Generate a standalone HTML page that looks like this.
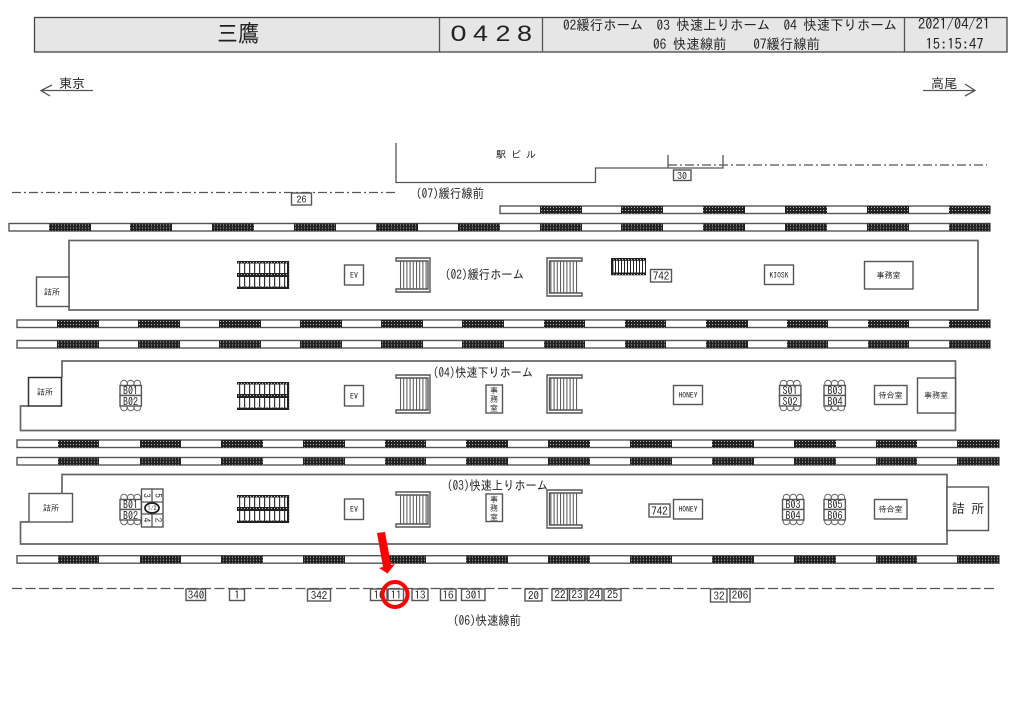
<!DOCTYPE html>
<html lang="ja"><head><meta charset="utf-8"><title>三鷹 0428</title>
<style>
html,body{margin:0;padding:0;background:#fff}
svg{display:block;position:absolute;left:0;top:0}
text{font-family:"IPAGothic","Liberation Sans","Noto Sans CJK JP",sans-serif;fill:#222;text-anchor:middle}
.l{fill:none;stroke:#555;stroke-width:1.3}
.b{fill:#fff;stroke:#555;stroke-width:1.4}
.h{stroke:#666;stroke-width:1.7;fill:#fff}
</style></head><body>
<svg width="1024" height="724" viewBox="0 0 1024 724" xmlns="http://www.w3.org/2000/svg">
<defs>
<pattern id="d" width="3" height="3" patternUnits="userSpaceOnUse"><rect width="3" height="3" fill="#222"/><rect x="1" y="1" width="1" height="1" fill="#bbb"/></pattern>
<pattern id="s" x="0" y="0" width="3.2" height="4" patternUnits="userSpaceOnUse"><rect width="3.2" height="4" fill="#fff"/><rect width="1" height="4" fill="#555"/></pattern>
<pattern id="e" x="239" y="0" width="5" height="4" patternUnits="userSpaceOnUse"><rect width="5" height="4" fill="#fff"/><rect width="1.2" height="4" fill="#333"/></pattern>
<pattern id="e2" x="0" y="0" width="3" height="4" patternUnits="userSpaceOnUse"><rect width="3" height="4" fill="#fff"/><rect width="1" height="4" fill="#222"/></pattern>
<g id="esc">
<rect x="237" y="0" width="52" height="28" fill="url(#e)"/>
<rect x="237" y="0" width="52" height="2.5" fill="url(#d)"/>
<rect x="237" y="12" width="52" height="4" fill="url(#d)"/>
<rect x="237" y="25.5" width="52" height="2.5" fill="url(#d)"/>
<rect x="287" y="0" width="2.2" height="28" fill="url(#d)"/>
</g>
<g id="circ"><circle cx="4" cy="0" r="3.3" fill="#fff" stroke="#666"/><circle cx="10.7" cy="0" r="3.3" fill="#fff" stroke="#666"/><circle cx="17.4" cy="0" r="3.3" fill="#fff" stroke="#666"/></g>
<g id="booth">
<use href="#circ" y="3.5"/><use href="#circ" y="27.5"/>
<rect x="0" y="5.5" width="21.4" height="10" class="b"/><rect x="0" y="15.5" width="21.4" height="10.5" class="b"/>
</g>
<g id="t1">
<rect x="49" y="0" width="42" height="7.5" fill="url(#d)"/><rect x="130" y="0" width="42" height="7.5" fill="url(#d)"/><rect x="212" y="0" width="42" height="7.5" fill="url(#d)"/><rect x="294" y="0" width="42" height="7.5" fill="url(#d)"/><rect x="376" y="0" width="42" height="7.5" fill="url(#d)"/><rect x="458" y="0" width="42" height="7.5" fill="url(#d)"/>
</g>
<g id="t2">
<rect x="540" y="0" width="42" height="7.5" fill="url(#d)"/><rect x="621" y="0" width="42" height="7.5" fill="url(#d)"/><rect x="703" y="0" width="42" height="7.5" fill="url(#d)"/><rect x="785" y="0" width="42" height="7.5" fill="url(#d)"/><rect x="867" y="0" width="42" height="7.5" fill="url(#d)"/><rect x="949" y="0" width="41" height="7.5" fill="url(#d)"/>
</g>
<g id="t3">
<rect x="17" y="0" width="973" height="7.5" class="b"/>
<rect x="57" y="0" width="42" height="7.5" fill="url(#d)"/><rect x="138" y="0" width="42" height="7.5" fill="url(#d)"/><rect x="219" y="0" width="42" height="7.5" fill="url(#d)"/><rect x="300" y="0" width="42" height="7.5" fill="url(#d)"/><rect x="381" y="0" width="42" height="7.5" fill="url(#d)"/><rect x="462" y="0" width="42" height="7.5" fill="url(#d)"/><rect x="544" y="0" width="41" height="7.5" fill="url(#d)"/><rect x="625" y="0" width="41" height="7.5" fill="url(#d)"/><rect x="706" y="0" width="42" height="7.5" fill="url(#d)"/><rect x="787" y="0" width="41" height="7.5" fill="url(#d)"/><rect x="868" y="0" width="41" height="7.5" fill="url(#d)"/><rect x="949" y="0" width="41" height="7.5" fill="url(#d)"/>
</g>
<g id="t4">
<rect x="17" y="0" width="982" height="7.5" class="b"/>
<rect x="58" y="0" width="41" height="7.5" fill="url(#d)"/><rect x="140" y="0" width="41" height="7.5" fill="url(#d)"/><rect x="221" y="0" width="42" height="7.5" fill="url(#d)"/><rect x="303" y="0" width="42" height="7.5" fill="url(#d)"/><rect x="385" y="0" width="41" height="7.5" fill="url(#d)"/><rect x="466" y="0" width="42" height="7.5" fill="url(#d)"/><rect x="548" y="0" width="42" height="7.5" fill="url(#d)"/><rect x="630" y="0" width="42" height="7.5" fill="url(#d)"/><rect x="712" y="0" width="42" height="7.5" fill="url(#d)"/><rect x="794" y="0" width="42" height="7.5" fill="url(#d)"/><rect x="876" y="0" width="41" height="7.5" fill="url(#d)"/><rect x="957" y="0" width="42" height="7.5" fill="url(#d)"/>
</g>
</defs>

<!-- header -->
<rect x="34.5" y="17.5" width="972.5" height="34.5" fill="#e6e6e6" stroke="#444" stroke-width="1.3"/>
<path d="M439.5 17.5V52M542.5 17.5V52M904.5 17.5V52" class="l"/>
<text x="238" y="42" font-size="24" textLength="42" lengthAdjust="spacingAndGlyphs">三鷹</text>
<text x="458.5" y="41" font-size="22" textLength="16" lengthAdjust="spacingAndGlyphs" style='font-family:"Liberation Sans",sans-serif'>0</text>
<text x="480.5" y="41" font-size="22" textLength="15" lengthAdjust="spacingAndGlyphs" style='font-family:"Liberation Sans",sans-serif'>4</text>
<text x="503" y="41" font-size="22" textLength="15" lengthAdjust="spacingAndGlyphs" style='font-family:"Liberation Sans",sans-serif'>2</text>
<text x="524.5" y="41" font-size="22" textLength="15" lengthAdjust="spacingAndGlyphs" style='font-family:"Liberation Sans",sans-serif'>8</text>
<text x="730" y="30" font-size="14" textLength="334" lengthAdjust="spacingAndGlyphs" xml:space="preserve">02緩行ホーム  03 快速上りホーム  04 快速下りホーム</text>
<text x="736.5" y="49" font-size="14" textLength="167" lengthAdjust="spacingAndGlyphs" xml:space="preserve">06 快速線前    07緩行線前</text>
<text x="954" y="29" font-size="15" textLength="72" lengthAdjust="spacingAndGlyphs">2021/04/21</text>
<text x="954.5" y="49" font-size="15" textLength="58" lengthAdjust="spacingAndGlyphs">15:15:47</text>

<!-- direction -->
<text x="72" y="88" font-size="13">東京</text>
<path d="M93 90.5H41M52 85L41 90.5L50 96" class="l"/>
<text x="944" y="88" font-size="13">高尾</text>
<path d="M923 90.5H975M965 84L975 90.5L965 96" class="l"/>

<!-- station building -->
<path d="M396 143V182.5H595.5V168H723V155M668 155V168" class="l"/>
<text x="516" y="158" font-size="10" textLength="40" xml:space="preserve">駅 ビ ル</text>
<path d="M12 192.5H396" class="l" stroke-dasharray="9 3 2 3"/>
<path d="M668 165H987" class="l" stroke-dasharray="9 3 2 3"/>
<rect x="291.5" y="193" width="20" height="12" class="b"/><text x="301.5" y="203" font-size="10">26</text>
<rect x="673.5" y="170" width="17.5" height="10.5" class="b"/><text x="682" y="179.5" font-size="10">30</text>
<text x="450" y="198" font-size="13" textLength="68" lengthAdjust="spacingAndGlyphs">(07)緩行線前</text>

<!-- tracks -->
<rect x="500" y="206" width="490" height="7.5" class="b"/><use href="#t2" y="206"/>
<rect x="9" y="223.5" width="981" height="7.5" class="b"/><use href="#t1" y="223.5"/><use href="#t2" y="223.5"/>
<use href="#t3" y="320"/><use href="#t3" y="340.5"/>
<use href="#t4" y="440"/><use href="#t4" y="457.5"/><use href="#t4" y="555.7"/>

<!-- platform 02 -->
<rect x="69" y="240.5" width="909" height="69.5" class="h"/>
<rect x="36.5" y="277" width="32.5" height="29.5" class="b"/><text x="52" y="295" font-size="8">詰所</text>
<use href="#esc" y="261"/>
<rect x="344.5" y="265" width="19" height="20" class="b"/><text x="354" y="278" font-size="8">EV</text>
<rect x="398" y="261" width="30" height="28" fill="url(#s)"/><path d="M396 258H430V292H396V289H428V261H396Z" class="b"/>
<text x="484.5" y="279" font-size="13" textLength="79" lengthAdjust="spacingAndGlyphs">(02)緩行ホーム</text>
<rect x="549" y="261" width="30" height="32" fill="url(#s)"/><path d="M582 258H547V296H582V293H549.5V261H582Z" class="b"/>
<rect x="611" y="258" width="35" height="17" fill="url(#e2)"/><rect x="611" y="258" width="35" height="2.8" fill="url(#d)"/><rect x="611" y="272.5" width="35" height="2.8" fill="url(#d)"/><rect x="611" y="258" width="2.4" height="17" fill="#222"/>
<rect x="650.5" y="269.5" width="21" height="12.5" class="b"/><text x="661" y="280" font-size="11">742</text>
<rect x="764.5" y="265" width="29" height="19.5" class="b"/><text x="779" y="278" font-size="8" textLength="19" lengthAdjust="spacingAndGlyphs">KIOSK</text>
<rect x="864.5" y="261.5" width="48.5" height="27.5" class="b"/><text x="888.5" y="278" font-size="8">事務室</text>

<!-- platform 04 -->
<path d="M62 377V361H955.5V430.5H20.5V406H28" class="h"/>
<rect x="28.5" y="377.5" width="33" height="28.5" fill="#fff" stroke="#333" stroke-width="1.5"/><text x="45" y="395" font-size="8">詰所</text>
<use href="#booth" transform="translate(120 380)"/><text x="130.5" y="394.5" font-size="11" textLength="15" lengthAdjust="spacingAndGlyphs">B01</text><text x="130.5" y="405.5" font-size="11" textLength="15" lengthAdjust="spacingAndGlyphs">B02</text>
<use href="#esc" y="382"/>
<rect x="344.5" y="385.5" width="19" height="20.5" class="b"/><text x="354" y="399" font-size="8">EV</text>
<rect x="398" y="378" width="30" height="32" fill="url(#s)"/><path d="M396 375H430V413H396V410H428V378H396Z" class="b"/>
<rect x="486" y="385" width="16.5" height="28" class="b"/><text x="494" y="393" font-size="8">事</text><text x="494" y="402" font-size="8">務</text><text x="494" y="411" font-size="8">室</text>
<text x="483" y="377" font-size="13" textLength="100" lengthAdjust="spacingAndGlyphs">(04)快速下りホーム</text>
<rect x="549" y="378" width="30" height="32" fill="url(#s)"/><path d="M582 375H547V413H582V410H549.5V378H582Z" class="b"/>
<rect x="673.5" y="385.5" width="29" height="19" class="b"/><text x="688" y="398" font-size="8" textLength="19" lengthAdjust="spacingAndGlyphs">HONEY</text>
<use href="#booth" transform="translate(779.5 380)"/><text x="790" y="394.5" font-size="11" textLength="15" lengthAdjust="spacingAndGlyphs">S01</text><text x="790" y="405.5" font-size="11" textLength="15" lengthAdjust="spacingAndGlyphs">S02</text>
<use href="#booth" transform="translate(824 380)"/><text x="835" y="394.5" font-size="11" textLength="15" lengthAdjust="spacingAndGlyphs">B03</text><text x="835" y="405.5" font-size="11" textLength="15" lengthAdjust="spacingAndGlyphs">B04</text>
<rect x="874.5" y="385.5" width="32.5" height="19" class="b"/><text x="890.5" y="398" font-size="8">待合室</text>
<rect x="917.5" y="378" width="38" height="35" class="b"/><text x="936" y="398" font-size="8">事務室</text>

<!-- platform 03 -->
<path d="M62 493V474.5H947V544H20.5V522H29" class="h"/>
<rect x="29" y="493.5" width="43.5" height="28.5" class="b"/><text x="51" y="511" font-size="8">詰所</text>
<use href="#booth" transform="translate(120 494)"/><text x="130.5" y="508.5" font-size="11" textLength="15" lengthAdjust="spacingAndGlyphs">B01</text><text x="130.5" y="519.5" font-size="11" textLength="15" lengthAdjust="spacingAndGlyphs">B02</text>
<rect x="141.5" y="489" width="21.5" height="38" class="b"/>
<path d="M152 489V502M152 514V527M141.5 502H163M141.5 514H163" class="l"/>
<ellipse cx="152" cy="508" rx="7" ry="5" fill="#fff" stroke="#222" stroke-width="1.8"/>
<text font-size="9" transform="translate(146.5 495.5) rotate(90)" dy="3">3</text>
<text font-size="9" transform="translate(158 495.5) rotate(90)" dy="3">5</text>
<text font-size="6" x="152" y="510.5">1/2</text>
<text font-size="9" transform="translate(146.5 520) rotate(90)" dy="3">4</text>
<text font-size="9" transform="translate(158 520) rotate(90)" dy="3">2</text>
<use href="#esc" y="495"/>
<rect x="344.5" y="499" width="19" height="20.5" class="b"/><text x="354" y="512" font-size="8">EV</text>
<rect x="398" y="495" width="30" height="29" fill="url(#s)"/><path d="M396 492H430V527H396V524H428V495H396Z" class="b"/>
<rect x="486" y="494" width="16.5" height="27.5" class="b"/><text x="494" y="502" font-size="8">事</text><text x="494" y="511" font-size="8">務</text><text x="494" y="520" font-size="8">室</text>
<text x="497.5" y="490" font-size="13" textLength="101" lengthAdjust="spacingAndGlyphs">(03)快速上りホーム</text>
<rect x="549" y="493" width="30" height="32" fill="url(#s)"/><path d="M582 490H547V528H582V525H549.5V493H582Z" class="b"/>
<rect x="649" y="504" width="21" height="13" class="b"/><text x="659.5" y="515" font-size="11">742</text>
<rect x="673.5" y="499.5" width="29" height="19.5" class="b"/><text x="688" y="512" font-size="8" textLength="19" lengthAdjust="spacingAndGlyphs">HONEY</text>
<use href="#booth" transform="translate(782.5 494)"/><text x="793" y="508.5" font-size="11" textLength="15" lengthAdjust="spacingAndGlyphs">B03</text><text x="793" y="519.5" font-size="11" textLength="15" lengthAdjust="spacingAndGlyphs">B04</text>
<use href="#booth" transform="translate(824 494)"/><text x="835" y="508.5" font-size="11" textLength="15" lengthAdjust="spacingAndGlyphs">B05</text><text x="835" y="519.5" font-size="11" textLength="15" lengthAdjust="spacingAndGlyphs">B06</text>
<rect x="874.5" y="499.5" width="32.5" height="19.5" class="b"/><text x="890.5" y="512" font-size="8">待合室</text>
<rect x="947" y="487" width="41.5" height="43.5" class="b"/><text x="968" y="513" font-size="13" xml:space="preserve">詰 所</text>

<!-- bottom line -->
<path d="M12 588.5H995" class="l" stroke-dasharray="10 3.5"/>
<g font-size="11">
<rect x="186" y="589" width="19.5" height="11.5" class="b"/><text x="196" y="599">340</text>
<rect x="229.5" y="589" width="15" height="11.5" class="b"/><text x="237" y="599">1</text>
<rect x="307.5" y="589" width="23" height="12" class="b"/><text x="319" y="599.5">342</text>
<rect x="370.5" y="589" width="16.5" height="11.5" class="b"/><text x="379" y="599">10</text>
<rect x="388" y="589" width="15.5" height="11.5" class="b"/><text x="396" y="599">11</text>
<rect x="412" y="589" width="16" height="11.5" class="b"/><text x="420" y="599">13</text>
<rect x="440.5" y="589" width="15.5" height="11.5" class="b"/><text x="448" y="599">16</text>
<rect x="461.5" y="589" width="23.5" height="11.5" class="b"/><text x="473.5" y="599">301</text>
<rect x="525" y="589" width="17" height="12" class="b"/><text x="533.5" y="599.5">20</text>
<rect x="552" y="589" width="15.5" height="11.5" class="b"/><text x="560" y="598.5">22</text>
<rect x="569.5" y="589" width="15.5" height="11.5" class="b"/><text x="577" y="598.5">23</text>
<rect x="587" y="589" width="15" height="11.5" class="b"/><text x="594.5" y="598.5">24</text>
<rect x="604" y="589" width="17" height="11.5" class="b"/><text x="612.5" y="598.5">25</text>
<rect x="710.5" y="589" width="16.5" height="13" class="b"/><text x="719" y="600">32</text>
<rect x="730" y="589" width="20" height="13" class="b"/><text x="740" y="599">206</text>
</g>
<text x="487" y="625" font-size="13" textLength="68" lengthAdjust="spacingAndGlyphs">(06)快速線前</text>

<!-- red marker -->
<circle cx="395" cy="594.5" r="12.5" fill="none" stroke="#f00" stroke-width="4"/>
<path d="M377 533L385 532L391 565L395 564L387.5 573.5L379 568L383 567Z" fill="#f00"/>
</svg>
</body></html>
